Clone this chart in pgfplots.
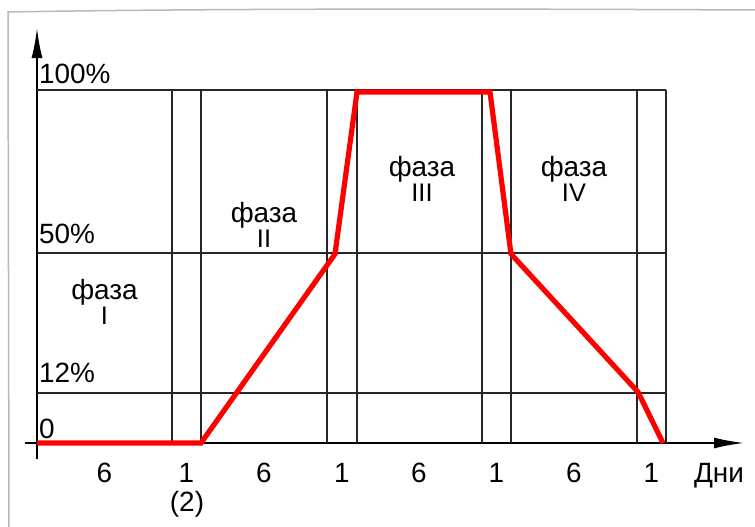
\documentclass[border=0pt]{standalone}
\usepackage{fontspec}
\setmainfont{Liberation Sans}
\usepackage{pgfplots}
\pgfplotsset{compat=1.18}
\usetikzlibrary{arrows.meta}
\newcommand{\F}{\fontsize{28}{30}\selectfont}
\newcommand{\G}{\fontsize{25.5}{28}\selectfont}
\begin{document}
\begin{tikzpicture}
\begin{axis}[
  x=1bp, y=1bp,
  anchor=origin, at={(0,0)},
  xmin=-12, xmax=707, ymin=-16, ymax=415,
  axis lines=middle,
  axis line style={line width=2bp, black},
  every inner x axis line/.append style={-{Latex[length=30bp,width=11bp]}},
  every inner y axis line/.append style={-{Latex[length=30bp,width=11bp]}},
  clip=false,
  major tick length=0pt,
  xtick={67.5,149.5,227,305,382,459.5,537,614.5},
  xticklabels={6,1,6,1,6,1,6,1},
  ytick={5,61,200,360},
  yticklabels={0,12\%,50\%,100\%},
  xticklabel style={anchor=base, inner sep=0pt, yshift=-39bp},
  yticklabel style={anchor=base west, inner sep=0pt, xshift=2bp},
  tick label style={font=\F},
  /pgf/number format/assume math mode=true,
  unbounded coords=jump,
]
% grid
\addplot[line width=1.3bp, black!85] coordinates {
  (135,0)(135,353) (nan,nan)
  (164,0)(164,353) (nan,nan)
  (290,0)(290,353) (nan,nan)
  (320,0)(320,353) (nan,nan)
  (445,0)(445,353) (nan,nan)
  (474,0)(474,353) (nan,nan)
  (600,0)(600,353) (nan,nan)
  (629,0)(629,353) (nan,nan)
  (0,50)(629,50) (nan,nan)
  (0,190)(629,190) (nan,nan)
  (0,353)(629,353)
};
% red curve
\addplot[red, line width=5.2bp] coordinates {
  (0,0) (164,0) (298,189) (320,351) (453,351) (474,189) (601,51) (626,0)
};
\node[font=\F, anchor=base] at (axis cs:67.5,144) {фаза};
\node[font=\G, anchor=base] at (axis cs:67.5,119) {I};
\node[font=\F, anchor=base] at (axis cs:227,221) {фаза};
\node[font=\G, anchor=base] at (axis cs:227,196) {II};
\node[font=\F, anchor=base] at (axis cs:385,267) {фаза};
\node[font=\G, anchor=base] at (axis cs:385,242) {III};
\node[font=\F, anchor=base] at (axis cs:537,267) {фаза};
\node[font=\G, anchor=base] at (axis cs:537,242) {IV};
\node[font=\F, anchor=base] at (axis cs:150,-68) {(2)};
\node[font=\F, anchor=base] at (axis cs:682,-39) {Дни};
\end{axis}
\draw[gray!55, line width=1.5bp] (-28bp,-84bp) -- (-29bp,431bp) .. controls (200bp,435bp) and (500bp,434bp) .. (718bp,433bp);
\pgfresetboundingbox
\path (-37bp,-84bp) rectangle (718bp,443bp);
\end{tikzpicture}
\end{document}
